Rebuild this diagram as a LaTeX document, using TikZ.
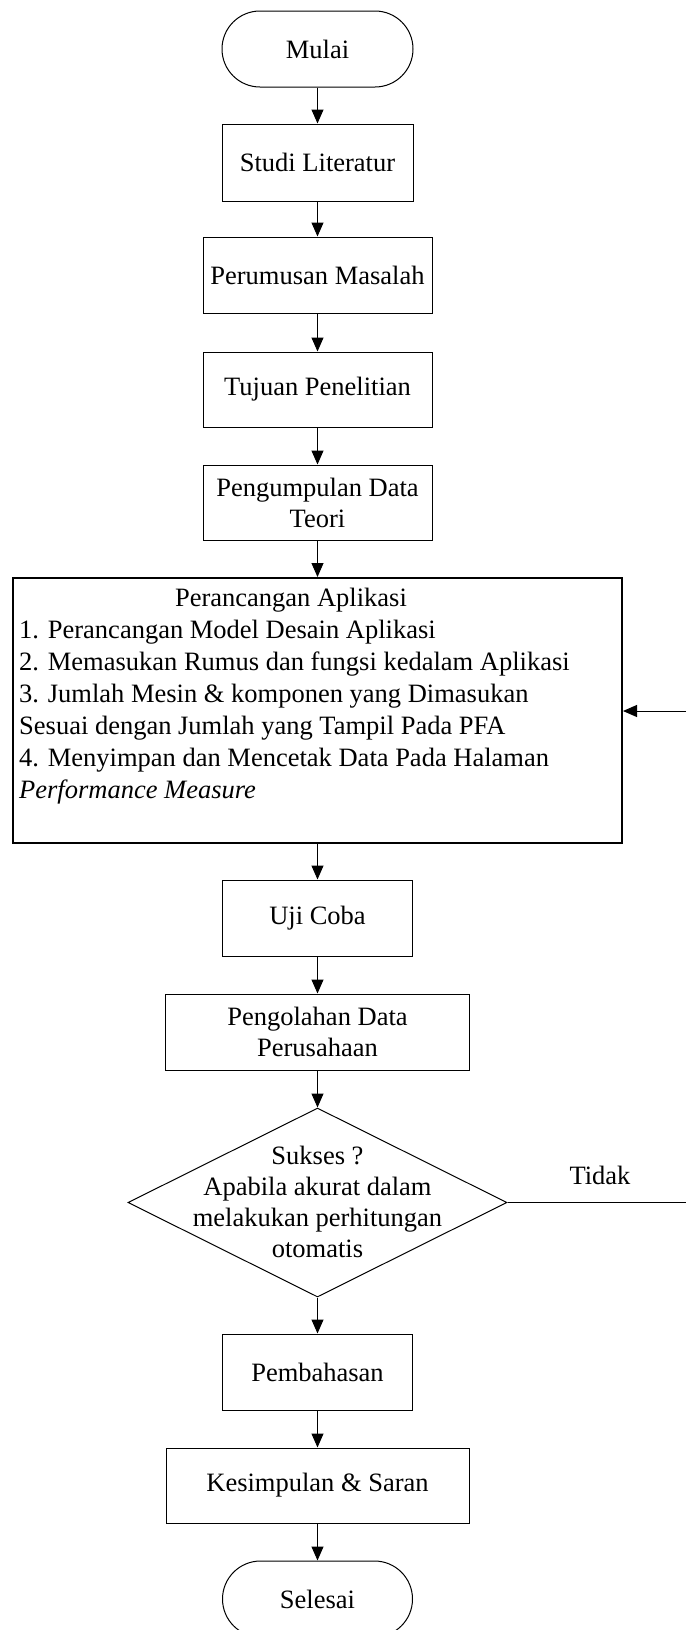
\documentclass[tikz,border=0pt]{standalone}
\usepackage{fontspec}
\setmainfont{Liberation Serif}
\usetikzlibrary{arrows.meta,shapes.geometric}
\begin{document}
\begin{tikzpicture}[x=1pt,y=-1pt,
  every node/.style={font=\fontsize{26.5}{31}\selectfont},
  box/.style={draw, line width=1pt, minimum width=#1, minimum height=76pt, inner sep=0pt, align=center},
  term/.style={draw, line width=1pt, rounded corners=38pt, minimum width=191pt, minimum height=76pt, inner sep=0pt},
  txt/.style={inner sep=0pt, anchor=base west},
  arr/.style={-{Triangle[width=12pt,length=14pt]}, line width=1pt}]
\useasboundingbox (0,0) rectangle (686,1630);
\fill[white] (0,0) rectangle (686,1630);
\clip (0,0) rectangle (686,1630);

\node[term] (mulai) at (317.5,49) {Mulai};
\node[box=191pt, minimum height=77pt] (studi) at (317.5,162.5) {Studi Literatur};
\node[box=229pt] (rumus) at (317.5,275) {Perumusan Masalah};
\node[box=229pt, minimum height=75pt] (tujuan) at (317.5,389.5) {Tujuan Penelitian};
\node[box=229pt, minimum height=75pt] (kumpul) at (317.5,502.5) {Pengumpulan Data\\Teori};

\node[draw, line width=2pt, minimum width=609pt, minimum height=265pt, inner sep=0pt] (pa) at (317.5,710.5) {};
\node[inner sep=0pt, anchor=base] (pt0) at (291,606) {Perancangan Aplikasi};
\node[txt] (pt1) at (19,638) {1. Perancangan Model Desain Aplikasi};
\node[txt] (pt2) at (19,670) {2. Memasukan Rumus dan fungsi kedalam Aplikasi};
\node[txt] (pt3) at (19,702) {3. Jumlah Mesin \& komponen yang Dimasukan};
\node[txt] (pt4) at (19,734) {Sesuai dengan Jumlah yang Tampil Pada PFA};
\node[txt] (pt5) at (19,766) {4. Menyimpan dan Mencetak Data Pada Halaman};
\node[txt] (pt6) at (19,798) {\itshape Performance Measure};

\node[box=190pt] (uji) at (317.5,918) {Uji Coba};
\node[box=304pt] (olah) at (317.5,1032) {Pengolahan Data\\Perusahaan};
\node[draw, diamond, line width=1pt, minimum width=379pt, minimum height=189pt, inner sep=0pt] (dec) at (317.5,1202.5) {};
\node[align=center, inner sep=0pt] (dectext) at (317.5,1201.5) {Sukses ?\\Apabila akurat dalam\\melakukan perhitungan\\otomatis};
\node (tidak) at (600,1175) {Tidak};
\node[box=190pt] (bahas) at (317.5,1372) {Pembahasan};
\node[box=303pt, minimum height=75pt] (simpul) at (317.5,1485.5) {Kesimpulan \& Saran};
\node[term, minimum width=190pt] (selesai) at (317.5,1599) {Selesai};

\draw[arr] (mulai.south) -- (studi.north);
\draw[arr] (studi.south) -- (rumus.north);
\draw[arr] (rumus.south) -- (tujuan.north);
\draw[arr] (tujuan.south) -- (kumpul.north);
\draw[arr] (kumpul.south) -- (pa.north);
\draw[arr] (pa.south) -- (uji.north);
\draw[arr] (uji.south) -- (olah.north);
\draw[arr] (olah.south) -- (dec.north);
\draw[arr] (dec.south) -- (bahas.north);
\draw[arr] (bahas.south) -- (simpul.north);
\draw[arr] (simpul.south) -- (selesai.north);

\coordinate (fbin) at (686,711);
\draw[arr] (fbin) -- (pa.east |- fbin);
\coordinate (fbout) at (686,1202.5);
\draw[line width=1pt] (dec.east) -- (fbout);
\end{tikzpicture}
\end{document}
